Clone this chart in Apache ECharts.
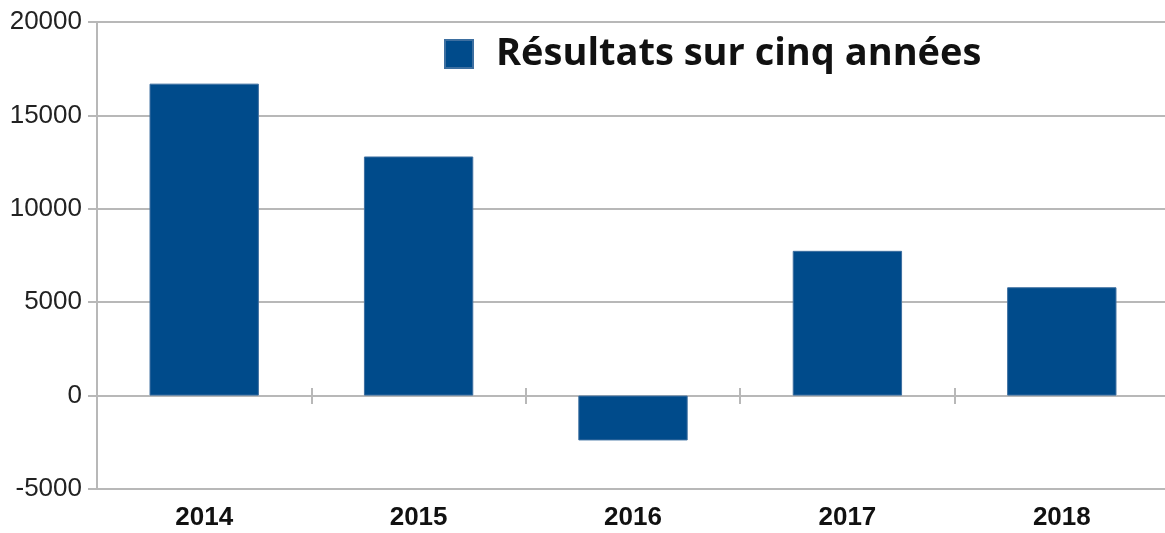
<!DOCTYPE html>
<html>
<head>
<meta charset="utf-8">
<script src="https://cdn.jsdelivr.net/npm/echarts@6/dist/echarts.min.js"></script>
<style>
  html, body { margin: 0; padding: 0; background: #fff; overflow: hidden; }
  #chart { width: 1169px; height: 533px; }
</style>
</head>
<body>
<div id="chart"></div>
<script>
const years = ["2014", "2015", "2016", "2017", "2018"];
const results = [16700, 12800, -2400, 7750, 5800];
const seriesName = "Résultats sur cinq années";

const chart = echarts.init(document.getElementById("chart"));
const gridColor = "#b8b8b8";

const option = {
  animation: false,
  grid: { left: 97, right: 0, top: 22, bottom: 44, containLabel: false },
  legend: {
    data: [{ name: seriesName, icon: "rect" }],
    left: 444,
    top: 34,
    padding: 0,
    itemWidth: 28,
    itemHeight: 28,
    textStyle: {
      fontFamily: "Open Sans",
      fontWeight: "bold",
      fontSize: 38,
      lineHeight: 40,
      padding: [0, 0, 0, 18],
      color: "#111"
    }
  },
  xAxis: [
    {
      // labels at the bottom of the plot
      type: "category",
      data: years,
      position: "bottom",
      axisLine: { show: false, onZero: false },
      axisTick: { show: false },
      axisLabel: {
        margin: 16,
        fontFamily: "Liberation Sans",
        fontWeight: "bold",
        fontSize: 26,
        color: "#111"
      }
    },
    {
      // ticks crossing the zero line
      type: "category",
      data: years,
      position: "bottom",
      offset: -101,
      axisLine: { show: false, onZero: false },
      axisTick: { show: true, length: 16, lineStyle: { color: gridColor, width: 2 } },
      axisLabel: { show: false }
    }
  ],
  yAxis: {
    type: "value",
    min: -5000,
    max: 20000,
    interval: 5000,
    axisLine: { show: true, lineStyle: { color: gridColor, width: 2 } },
    axisTick: { show: true, length: 9, lineStyle: { color: gridColor, width: 2 } },
    splitLine: { lineStyle: { color: gridColor, width: 2 } },
    axisLabel: {
      margin: 15,
      fontFamily: "Liberation Sans",
      fontSize: 26,
      color: "#222",
      formatter: (v) => String(v)
    }
  },
  series: [
    {
      name: seriesName,
      type: "bar",
      xAxisIndex: 0,
      data: results,
      barWidth: "51%",
      itemStyle: { color: "#004b8b", borderColor: "#3d6fa0", borderWidth: 1 }
    }
  ]
};

chart.setOption(option);
</script>
</body>
</html>
